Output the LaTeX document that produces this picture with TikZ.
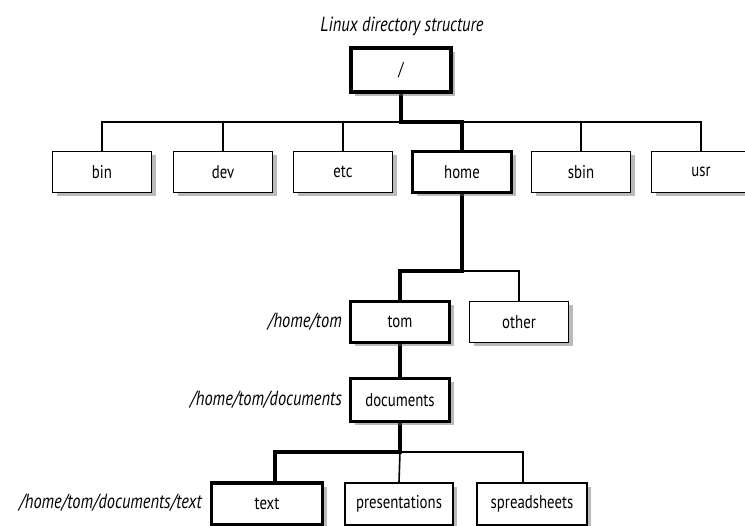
\documentclass[tikz,border=0pt]{standalone}
\usepackage{fontspec}
\setmainfont{PT Sans}[FakeStretch=0.8]
\usetikzlibrary{shadows,backgrounds}
\begin{document}
\begin{tikzpicture}[x=1pt,y=-1pt,
  box/.style={draw, line width=1.6pt, fill=white, minimum width=99pt, minimum height=41pt, inner sep=0pt,
    font=\fontsize{18.5}{20}\selectfont,
    drop shadow={opacity=0.45, fill=black!60, shadow xshift=4pt, shadow yshift=-4pt}},
  hbox/.style={box, line width=3.6pt},
  conn/.style={line width=1.6pt, line join=miter},
  hconn/.style={line width=3.6pt, line join=miter},
  lab/.style={font=\fontsize{20.5}{22}\selectfont\itshape, anchor=east, inner sep=0pt}]
\useasboundingbox (0,0) rectangle (745,526);
\node[font=\fontsize{20.5}{22}\selectfont\itshape] (title) at (402,26) {Linux directory structure};
\node[hbox, minimum width=100pt, minimum height=44pt] (root) at (401,70) {/};
\node[box] (bin) at (102,172) {bin};
\node[box] (dev) at (223,172) {dev};
\node[box] (etc) at (343,172) {etc};
\node[hbox] (home) at (462,172) {home};
\node[box] (sbin) at (581,172) {sbin};
\node[box] (usr) at (701,172) {usr};
\node[hbox] (tom) at (400,322) {tom};
\node[box] (other) at (519,322) {other};
\node[hbox, minimum height=43pt] (docs) at (400,400) {documents};
\node[hbox, minimum width=111pt, minimum height=42pt] (text) at (267,504) {text};
\node[box, minimum width=108pt, minimum height=42pt] (pres) at (399,504) {presentations};
\node[box, minimum width=110pt, minimum height=42pt] (spread) at (532,504) {spreadsheets};
\node[lab] (ltom) at (342,322) {/home/tom};
\node[lab] (ldocs) at (342,400) {/home/tom/documents};
\node[lab] (ltext) at (202,503) {/home/tom/documents/text};
\coordinate (b1) at (401,122);
\coordinate (b2) at (462,271);
\coordinate (b3) at (400,452);
\begin{scope}[on background layer]
\draw[conn] (bin.north) -- (bin.north |- b1) -- (usr.north |- b1) -- (usr.north);
\draw[conn] (dev.north) -- (dev.north |- b1);
\draw[conn] (etc.north) -- (etc.north |- b1);
\draw[conn] (sbin.north) -- (sbin.north |- b1);
\draw[hconn] (root.south) -- (b1) -| (home.north);
\draw[hconn] (home.south) -- (b2) -| (tom.north);
\draw[conn] (b2) -| (other.north);
\draw[hconn] (tom.south) -- (docs.north);
\draw[hconn] (docs.south) -- (b3) -| ([xshift=8pt]text.north);
\draw[conn] (b3) -- (pres.north);
\draw[conn] (b3) -| ([xshift=-9pt]spread.north);
\end{scope}
\end{tikzpicture}
\end{document}
